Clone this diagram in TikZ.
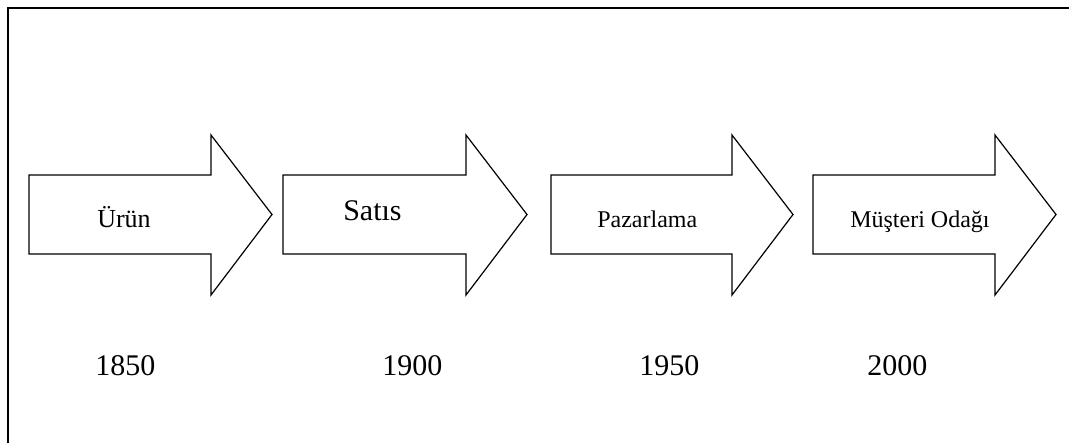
\documentclass[tikz,border=0pt]{standalone}
\usepackage{fontspec}
\setmainfont{Liberation Serif}
\begin{document}
\begin{tikzpicture}[x=0.75pt,y=-0.75pt,
  frameline/.style={line width=0.8pt},
  arrowshape/.style={draw=black,fill=white,line width=0.9pt,line join=miter},
  lbl/.style={inner sep=0pt,anchor=base west},
  big/.style={font=\fontsize{22.5}{27}\selectfont},
  mid/.style={font=\fontsize{19.5}{23}\selectfont},
  small/.style={font=\fontsize{18}{22}\selectfont}]
\useasboundingbox (0,0) rectangle (1069,443);
% frame (only top and left edges are visible)
\coordinate (fbl) at (8,443);
\coordinate (ftl) at (8,8);
\coordinate (ftr) at (1069,8);
\draw[frameline] (fbl) -- (ftl) -- (ftr);
% arrows
\foreach \l/\n/\t in {29/211/272, 283/466/527, 551/732/793, 813/995/1056}{
  \draw[arrowshape] (\l,175) -- (\n,175) -- (\n,135) -- (\t,214.5) -- (\n,295) -- (\n,254) -- (\l,254) -- cycle;
}
% labels in arrows
\node[lbl,mid]   (urun) at (97,227) {Ürün};
\node[lbl,big]   (satis) at (343,220) {Satıs};
\node[lbl,small] (paz) at (597,227) {Pazarlama};
\node[lbl,small] (must) at (850,227) {Müşteri Odağı};
% years
\node[lbl,big] (y1850) at (95,375) {1850};
\node[lbl,big] (y1900) at (382,375) {1900};
\node[lbl,big] (y1950) at (639,375) {1950};
\node[lbl,big] (y2000) at (867,375) {2000};
\end{tikzpicture}
\end{document}
